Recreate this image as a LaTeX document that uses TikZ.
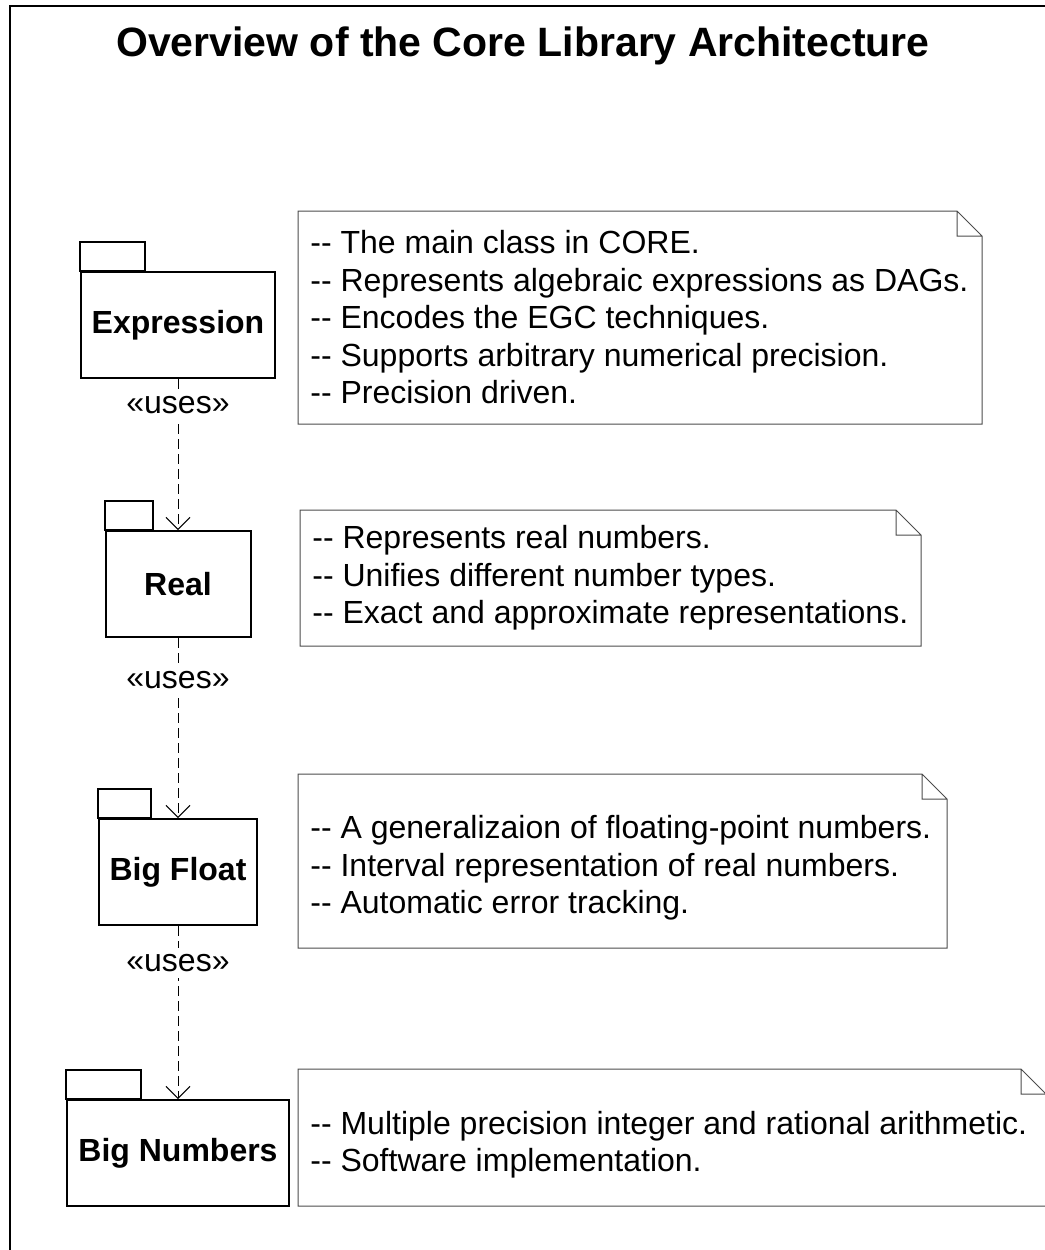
\documentclass[tikz,border=0pt]{standalone}
\usepackage{fontspec}
\setmainfont{Liberation Sans}[Ligatures=TeXOff]
\usetikzlibrary{arrows.meta,calc}

\begin{document}
\begin{tikzpicture}[x=0.5pt, y=-0.5pt, font=\fontsize{16}{18.75}\selectfont, line join=miter,
        pkg/.style={draw, line width=1pt, font=\fontsize{16}{18.75}\selectfont\bfseries, minimum width=72.5pt, minimum height=53pt, inner xsep=5.5pt},
        note/.style={anchor=west, align=left, inner sep=0pt},
        notebox/.style={draw=black!70, line width=0.5pt},
        uses/.style={draw, dash pattern=on 5pt off 2.5pt, line width=0.5pt, -{Straight Barb[length=6pt, width=12pt]}},
        stereo/.style={fill=white, inner xsep=1pt, inner ysep=3pt}]
    \useasboundingbox (0, 0) rectangle (1045, 1250);
    \draw[line width=1pt] (10, 1250) |- (1045, 6);
    \node[font=\fontsize{20.5}{24}\selectfont\bfseries] (title) at (523, 46) {Overview of the Core Library Architecture};

    % packages
    \node[pkg] (expr) at (178, 325) {Expression};
    \node[pkg] (real) at (178, 584) {Real};
    \node[pkg] (bigfloat) at (178, 872) {Big Float};
    \node[pkg] (bignum) at (178, 1153) {Big Numbers};
    \foreach \p in {expr, real, bigfloat, bignum}
        \draw[line width=1pt] (\p.north west) rectangle ($(\p.north west)!1/3!(\p.north east) + (0, -29)$);

    % notes
    \foreach \x/\y/\X/\Y in {298/211/982/424, 300/510/921/646, 298/774/947/948, 298/1069/1046/1206}
        \draw[notebox] (\x, \y) -- (\X-25, \y) -- (\X, \y+25) -- (\X, \Y) -- (\x, \Y) -- cycle
            (\X-25, \y) |- (\X, \y+25);
    \node[note] (exprnote) at (310, 317.5) {-- The main class in CORE.\\ -- Represents algebraic expressions as DAGs.\\ -- Encodes the EGC techniques.\\ -- Supports arbitrary numerical precision.\\ -- Precision driven.};
    \node[note] (realnote) at (312, 578) {-- Represents real numbers.\\ -- Unifies different number types.\\ -- Exact and approximate representations.};
    \node[note] (floatnote) at (310, 861) {\mbox{}\\ -- A generalizaion of floating-point numbers.\\ -- Interval representation of real numbers.\\ -- Automatic error tracking.};
    \node[note] (numnote) at (310, 1137.5) {\mbox{}\\ -- Multiple precision integer and rational arithmetic.\\ -- Software implementation.};

    % dependencies
    \draw[uses] (expr) -- (real);
    \draw[uses] (real) -- (bigfloat);
    \draw[uses] (bigfloat) -- (bignum);
    \node[stereo] (uses1) at (178, 405) {«uses»};
    \node[stereo] (uses2) at (178, 680) {«uses»};
    \node[stereo] (uses3) at (178, 963) {«uses»};
\end{tikzpicture}
\end{document}
